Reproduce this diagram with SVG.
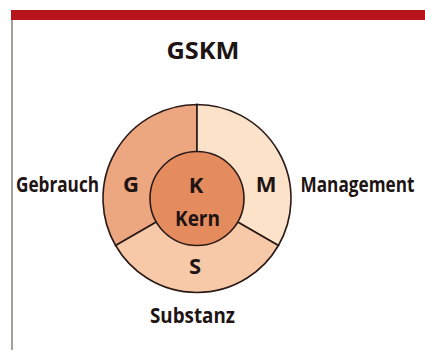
<svg xmlns="http://www.w3.org/2000/svg" width="425" height="351" viewBox="0 0 425 351">
<defs>
<style>
.t{font-family:"Open Sans","Noto Sans","DejaVu Sans",sans-serif;font-weight:bold;fill:#1e1414}
.seg{stroke:#2a1a18;stroke-width:1.6}
</style>
<linearGradient id="bot" x1="0" y1="0" x2="1" y2="0">
<stop offset="0" stop-color="#f5a623"/>
<stop offset="0.5" stop-color="#f6b3a8"/>
<stop offset="1" stop-color="#f2c7d8"/>
</linearGradient>
</defs>
<rect width="425" height="351" fill="#ffffff"/>
<rect x="11" y="10" width="414" height="10" fill="#b8141b"/>
<line x1="12" y1="20" x2="12" y2="350" stroke="#8c7f77" stroke-width="1.5"/>
<line x1="12" y1="349.5" x2="425" y2="349.5" stroke="url(#bot)" stroke-width="2"/>
<text class="t" x="203" y="59" font-size="23" text-anchor="middle" textLength="73" lengthAdjust="spacingAndGlyphs">GSKM</text>
<g id="node-G">
<path class="seg" d="M197,198.5 L197,104.5 A94,94 0 0 0 115.6,245.5 Z" fill="#eca680"/>
<text class="t" x="131" y="191.5" font-size="22" text-anchor="middle">G</text>
</g>
<g id="node-M">
<path class="seg" d="M197,198.5 L197,104.5 A94,94 0 0 1 278.4,245.5 Z" fill="#fce2c9"/>
<text class="t" x="266" y="191.5" font-size="22" text-anchor="middle">M</text>
</g>
<g id="node-S">
<path class="seg" d="M197,198.5 L278.4,245.5 A94,94 0 0 1 115.6,245.5 Z" fill="#f7c9a8"/>
<text class="t" x="195" y="274" font-size="22" text-anchor="middle">S</text>
</g>
<g id="node-K">
<circle class="seg" cx="197" cy="198.5" r="47" fill="#e58c5f"/>
<text class="t" x="196" y="193" font-size="22" text-anchor="middle">K</text>
<text class="t" x="197.5" y="226" font-size="22" text-anchor="middle" textLength="45" lengthAdjust="spacingAndGlyphs">Kern</text>
</g>
<g id="labels">
<text class="t" x="57.5" y="191.5" font-size="21.5" text-anchor="middle" textLength="83" lengthAdjust="spacingAndGlyphs">Gebrauch</text>
<text class="t" x="357.5" y="191.5" font-size="21.5" text-anchor="middle" textLength="114" lengthAdjust="spacingAndGlyphs">Management</text>
<text class="t" x="192.5" y="323" font-size="21.5" text-anchor="middle" textLength="85" lengthAdjust="spacingAndGlyphs">Substanz</text>
</g>
<g id="connectors"></g>
</svg>
